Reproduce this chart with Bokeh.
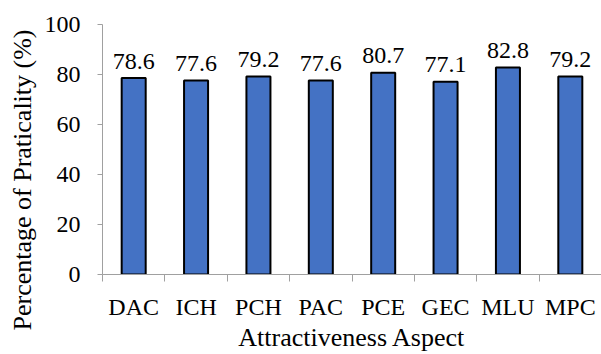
from bokeh.plotting import figure
from bokeh.models import Range1d, FixedTicker, Title, ColumnDataSource
from bokeh.core.properties import value
from bokeh.embed import file_html
from bokeh.resources import INLINE

# Practicality scores per attractiveness aspect
aspects = ["DAC", "ICH", "PCH", "PAC", "PCE", "GEC", "MLU", "MPC"]
scores = [78.6, 77.6, 79.2, 77.6, 80.7, 77.1, 82.8, 79.2]
y_ticks = [0, 20, 40, 60, 80, 100]

FONT = "Liberation Serif"
AXIS_GREY = "#A0A0A0"
BAR_BLUE = "#4472C4"

n = len(aspects)
centers = [i + 0.5 for i in range(n)]
boundaries = list(range(n + 1))

src = ColumnDataSource(dict(
    x=centers,
    top=scores,
    label=[f"{v:.1f}" for v in scores],
))

p = figure(
    width=601, height=354,
    x_range=Range1d(0, n), y_range=Range1d(0, 100),
    output_backend="svg", toolbar_location=None,
    min_border_left=101, min_border_right=0,
    min_border_top=24, min_border_bottom=80,
)
p.outline_line_color = None
p.xgrid.visible = False
p.ygrid.visible = False
p.background_fill_color = "white"
p.border_fill_color = "white"

p.vbar(x="x", top="top", bottom=0, width=0.385, source=src,
       fill_color=BAR_BLUE, line_color="black", line_width=2)

p.text(x="x", y="top", text="label", source=src,
       text_align="center", text_baseline="alphabetic", y_offset=-17,
       text_font=value(FONT), text_font_size="24px", text_color="black")

# y axis
ya = p.yaxis[0]
ya.ticker = FixedTicker(ticks=y_ticks)
ya.axis_line_color = AXIS_GREY
ya.major_tick_line_color = AXIS_GREY
ya.major_tick_out = 5
ya.major_tick_in = 0
ya.minor_tick_line_color = None
ya.major_label_standoff = 17
ya.major_label_text_font = FONT
ya.major_label_text_font_size = "24px"
ya.major_label_text_color = "black"

# x axis: category names at the centres, tick marks between categories
xa = p.xaxis[0]
xa.ticker = FixedTicker(ticks=centers, minor_ticks=boundaries)
xa.major_label_overrides = {c: a for c, a in zip(centers, aspects)}
xa.axis_line_color = AXIS_GREY
xa.major_tick_line_color = None
xa.major_tick_out = 0
xa.major_tick_in = 0
xa.minor_tick_line_color = AXIS_GREY
xa.minor_tick_out = 7
xa.minor_tick_in = 0
xa.major_label_standoff = 12
xa.major_label_text_font = FONT
xa.major_label_text_font_size = "24px"
xa.major_label_text_color = "black"
xa.axis_label = "Attractiveness Aspect"
xa.axis_label_text_font = FONT
xa.axis_label_text_font_size = "26px"
xa.axis_label_text_font_style = "normal"
xa.axis_label_text_color = "black"
xa.axis_label_standoff = 0

# vertical title for the y axis, shifted down past the frame's lower edge
p.add_layout(Title(
    text="Percentage of Praticality (%)", align="left", offset=-56,
    standoff=10, text_font=FONT, text_font_size="26px",
    text_font_style="normal", text_color="black",
), "left")

open("out.html", "w").write(file_html(p, INLINE))
